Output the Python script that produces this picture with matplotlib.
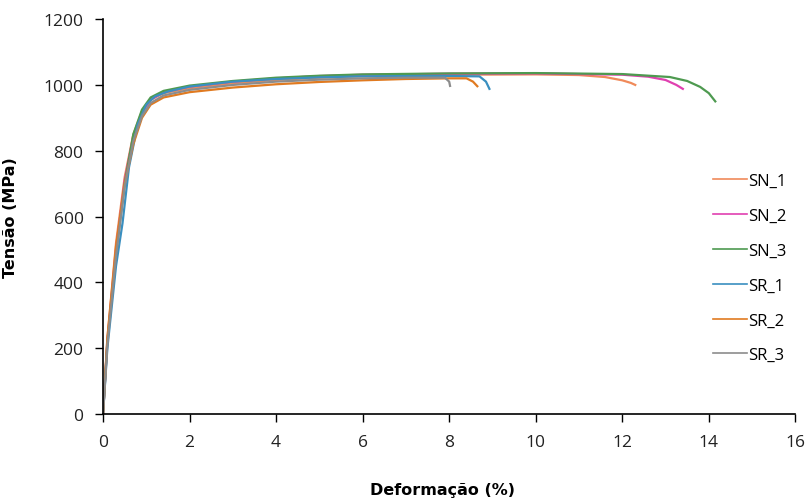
import matplotlib
matplotlib.use("Agg")
import matplotlib.pyplot as plt

labels = ["SN_1", "SN_2", "SN_3", "SR_1", "SR_2", "SR_3"]
colors = ["#F08A5A", "#E040B0", "#4E9A50", "#3A8FC0", "#E07A20", "#8C8C8C"]

sn1_x = [0, 0.1, 0.3, 0.5, 0.7, 0.9, 1.1, 1.4, 2, 3, 4, 5, 6, 8, 10, 11, 11.6, 12.0, 12.2, 12.3]
sn1_y = [0, 230, 520, 720, 850, 920, 955, 975, 990, 1005, 1015, 1022, 1027, 1031, 1032, 1030, 1024, 1014, 1006, 1000]
sn2_x = [0, 0.1, 0.3, 0.5, 0.7, 0.9, 1.1, 1.4, 2, 3, 4, 5, 6, 8, 10, 12, 12.6, 13.0, 13.25, 13.4]
sn2_y = [0, 220, 500, 710, 845, 915, 955, 978, 995, 1010, 1020, 1027, 1031, 1034, 1035, 1031, 1025, 1015, 1000, 988]
sn3_x = [0, 0.1, 0.3, 0.5, 0.7, 0.9, 1.1, 1.4, 2, 3, 4, 5, 6, 8, 10, 12, 13.1, 13.5, 13.8, 14.0, 14.15]
sn3_y = [0, 220, 490, 700, 850, 925, 962, 982, 998, 1012, 1022, 1028, 1032, 1035, 1036, 1033, 1024, 1012, 994, 975, 950]
sr1_x = [0, 0.1, 0.3, 0.45, 0.6, 0.8, 1.0, 1.2, 1.5, 2, 3, 4, 5, 6, 7, 8, 8.7, 8.85, 8.93]
sr1_y = [0, 200, 450, 580, 750, 880, 940, 965, 980, 995, 1010, 1018, 1023, 1026, 1027, 1027, 1026, 1010, 988]
sr2_x = [0, 0.1, 0.3, 0.5, 0.7, 0.9, 1.1, 1.4, 2, 3, 4, 5, 6, 7, 8, 8.4, 8.55, 8.65]
sr2_y = [0, 230, 510, 700, 820, 900, 940, 962, 978, 992, 1002, 1009, 1014, 1018, 1020, 1020, 1010, 996]
sr3_x = [0, 0.1, 0.3, 0.5, 0.7, 0.9, 1.1, 1.4, 2, 3, 4, 5, 6, 7, 7.9, 8.0, 8.02]
sr3_y = [0, 210, 480, 690, 830, 905, 945, 968, 985, 1000, 1010, 1016, 1020, 1022, 1022, 1010, 997]

series_x = [sn1_x, sn2_x, sn3_x, sr1_x, sr2_x, sr3_x]
series_y = [sn1_y, sn2_y, sn3_y, sr1_y, sr2_y, sr3_y]

xticks = [0, 2, 4, 6, 8, 10, 12, 14, 16]
yticks = [0, 200, 400, 600, 800, 1000, 1200]

tickfont = "Open Sans"

fig = plt.figure(figsize=(8.05, 5.02), dpi=100)
ax = fig.add_axes([0.128, 0.173, 0.860, 0.787])

for x, y, c, lab in zip(series_x, series_y, colors, labels):
    ax.plot(x, y, color=c, lw=1.6, label=lab)

ax.set_xlim(0, 16)
ax.set_ylim(0, 1200)
ax.set_xticks(xticks)
ax.set_yticks(yticks)
ax.spines["top"].set_visible(False)
ax.spines["right"].set_visible(False)
ax.spines["left"].set_linewidth(1.2)
ax.spines["bottom"].set_linewidth(1.2)
ax.tick_params(axis="both", direction="out", length=6, width=1.0, labelsize=12.5, pad=8)
for t in ax.get_xticklabels() + ax.get_yticklabels():
    t.set_fontfamily(tickfont)
    t.set_color("#222222")

ax.set_ylabel("Tensão (MPa)", fontsize=11.5, fontweight="bold", family="DejaVu Sans")
ax.yaxis.set_label_coords(-0.123, 0.5)
ax.set_xlabel("Deformação (%)", fontsize=11.5, fontweight="bold", family="DejaVu Sans")
ax.xaxis.set_label_coords(0.49, -0.19)
ax.xaxis.label.set_verticalalignment("center")

leg = ax.legend(loc="upper left", bbox_to_anchor=(0.86, 0.648), frameon=False,
                handlelength=2.0, handletextpad=0.1, labelspacing=1.13,
                prop={"family": tickfont, "size": 12})
for line in leg.get_lines():
    line.set_linewidth(1.2)

fig.savefig("out.png", dpi=100)
